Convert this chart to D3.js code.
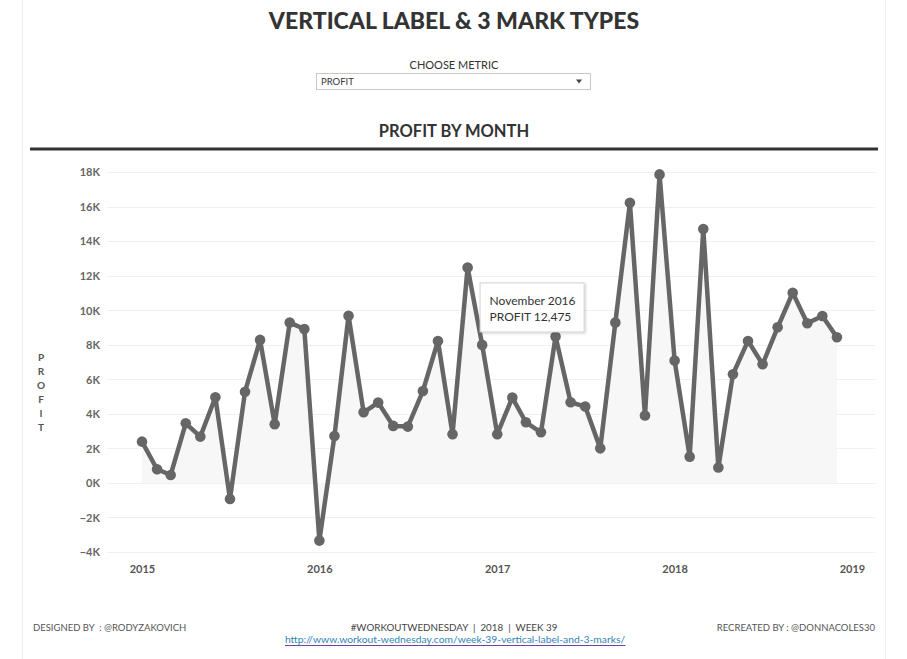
<!DOCTYPE html>
<html>
<head>
<meta charset="utf-8">
<script src="https://cdn.jsdelivr.net/npm/d3@7/dist/d3.min.js"></script>
<style>
  html, body { margin: 0; padding: 0; background: #fff; }
  svg { display: block; font-family: Lato, "Open Sans", sans-serif; }
  .pre { white-space: pre; }
</style>
</head>
<body>
<svg id="chart" width="907" height="659"></svg>
<script>
// ---- data ----
const months = [
  "2015-01","2015-02","2015-03","2015-04","2015-05","2015-06","2015-07","2015-08","2015-09","2015-10","2015-11","2015-12",
  "2016-01","2016-02","2016-03","2016-04","2016-05","2016-06","2016-07","2016-08","2016-09","2016-10","2016-11","2016-12",
  "2017-01","2017-02","2017-03","2017-04","2017-05","2017-06","2017-07","2017-08","2017-09","2017-10","2017-11","2017-12",
  "2018-01","2018-02","2018-03","2018-04","2018-05","2018-06","2018-07","2018-08","2018-09","2018-10","2018-11","2018-12"
];
const profit = [
  2390, 790, 460, 3450, 2680, 4960, -930, 5280, 8280, 3400, 9280, 8910,
  -3340, 2720, 9680, 4090, 4650, 3300, 3260, 5320, 8220, 2820, 12475, 7990,
  2820, 4940, 3510, 2930, 8470, 4670, 4420, 2000, 9280, 16220, 3900, 17860,
  7080, 1520, 14700, 890, 6290, 8220, 6870, 9010, 11010, 9240, 9660, 8430
];
const yTicks = [-4000, -2000, 0, 2000, 4000, 6000, 8000, 10000, 12000, 14000, 16000, 18000];
const xTickYears = [2015, 2016, 2017, 2018, 2019];
const tooltipIndex = 22; // November 2016

const parse = d3.timeParse("%Y-%m");
const data = months.map((m, i) => ({ date: parse(m), value: profit[i] }));

const svg = d3.select("#chart");

// dashboard frame lines
svg.append("line").attr("x1", 22.5).attr("x2", 22.5).attr("y1", 0).attr("y2", 659).attr("stroke", "#eeeeee");
svg.append("line").attr("x1", 885.5).attr("x2", 885.5).attr("y1", 0).attr("y2", 659).attr("stroke", "#eeeeee");

// title
svg.append("text").attr("x", 454).attr("y", 29).attr("text-anchor", "middle")
  .attr("font-size", 23).attr("font-weight", 900).attr("fill", "#333")
  .text("VERTICAL LABEL & 3 MARK TYPES");

// choose metric
svg.append("text").attr("x", 454).attr("y", 69).attr("text-anchor", "middle")
  .attr("font-size", 11).attr("fill", "#333").text("CHOOSE METRIC");
svg.append("rect").attr("x", 316.5).attr("y", 73.5).attr("width", 274).attr("height", 16)
  .attr("fill", "#fff").attr("stroke", "#c8c8c8");
svg.append("text").attr("x", 321).attr("y", 85).attr("font-size", 9.5).attr("fill", "#333").text("PROFIT");
svg.append("path").attr("d", "M576,79.5 L582,79.5 L579,83.5 Z").attr("fill", "#444");

// chart header
svg.append("text").attr("x", 454).attr("y", 137).attr("text-anchor", "middle")
  .attr("font-size", 16.5).attr("font-weight", 700).attr("fill", "#333").text("PROFIT BY MONTH");
svg.append("rect").attr("x", 30).attr("y", 147.5).attr("width", 848).attr("height", 3).attr("fill", "#333");

// scales
const x = d3.scaleTime().domain([new Date(2015, 0, 1), new Date(2019, 0, 1)]).range([142, 852]);
const y = d3.scaleLinear().domain([-4000, 18000]).range([552, 172]);

// gridlines
const grid = svg.append("g");
grid.selectAll("line").data(yTicks).join("line")
  .attr("x1", 107).attr("x2", 875)
  .attr("y1", d => Math.round(y(d)) + 0.5).attr("y2", d => Math.round(y(d)) + 0.5)
  .attr("stroke", "#f0f0f0");

// y axis
const yAxis = d3.axisLeft(y).tickValues(yTicks).tickSize(0).tickPadding(0)
  .tickFormat(d => d3.format("d")(d / 1000) + "K");
const gy = svg.append("g").attr("transform", "translate(100,0)").call(yAxis);
gy.select(".domain").remove();
gy.selectAll("text").attr("font-size", 11).attr("font-weight", 700).attr("fill", "#666")
  .attr("font-family", "Lato, sans-serif").attr("dy", "0.35em");

// x axis
const xAxis = d3.axisBottom(x).tickValues(xTickYears.map(yr => new Date(yr, 0, 1)))
  .tickSize(0).tickPadding(0).tickFormat(d3.timeFormat("%Y"));
const gx = svg.append("g").attr("transform", "translate(0,565)").call(xAxis);
gx.select(".domain").remove();
gx.selectAll("text").attr("font-size", 11).attr("font-weight", 700).attr("fill", "#555")
  .attr("font-family", "Lato, sans-serif").attr("dy", "0.71em");

// vertical label
const vlab = "PROFIT".split("");
svg.append("g").selectAll("text").data(vlab).join("text")
  .attr("x", 41).attr("y", (d, i) => 361 + i * 14).attr("text-anchor", "middle")
  .attr("font-size", 10).attr("font-weight", 700).attr("fill", "#555").text(d => d);

// area
const area = d3.area().x(d => x(d.date)).y0(y(0)).y1(d => y(d.value));
svg.append("path").datum(data).attr("d", area).attr("fill", "#f7f7f7");

// line
const line = d3.line().x(d => x(d.date)).y(d => y(d.value));
svg.append("path").datum(data).attr("d", line).attr("fill", "none")
  .attr("stroke", "#666").attr("stroke-width", 4.5).attr("stroke-linejoin", "round");

// circles
svg.append("g").selectAll("circle").data(data).join("circle")
  .attr("cx", d => x(d.date)).attr("cy", d => y(d.value)).attr("r", 5.3).attr("fill", "#666");

// tooltip
const tp = data[tooltipIndex];
const tg = svg.append("g");
const defs = svg.append("defs");
const f = defs.append("filter").attr("id", "sh").attr("x", "-10%").attr("y", "-10%").attr("width", "130%").attr("height", "140%");
f.append("feDropShadow").attr("dx", 1).attr("dy", 1).attr("stdDeviation", 1.2).attr("flood-color", "#000").attr("flood-opacity", 0.2);
const tx = x(tp.date) + 12, ty = y(tp.value) + 15;
tg.append("rect").attr("x", tx + 0.5).attr("y", ty + 0.5).attr("width", 104).attr("height", 49)
  .attr("fill", "#fff").attr("stroke", "#d4d4d4").attr("filter", "url(#sh)");
tg.append("text").attr("x", tx + 10).attr("y", ty + 23).attr("font-size", 12).attr("fill", "#333")
  .text(d3.timeFormat("%B %Y")(tp.date));
tg.append("text").attr("x", tx + 10).attr("y", ty + 39).attr("font-size", 12).attr("fill", "#333")
  .text("PROFIT " + d3.format(",")(tp.value));

// footer
svg.append("text").attr("class", "pre").attr("x", 33).attr("y", 631).attr("font-size", 9.5).attr("fill", "#555")
  .text("DESIGNED BY  : @RODYZAKOVICH");
svg.append("text").attr("x", 875).attr("y", 631).attr("text-anchor", "end").attr("font-size", 9.5).attr("fill", "#555")
  .text("RECREATED BY : @DONNACOLES30");
svg.append("text").attr("class", "pre").attr("x", 454).attr("y", 631).attr("text-anchor", "middle").attr("font-size", 9.8).attr("fill", "#444")
  .text("#WORKOUTWEDNESDAY  |  2018  |  WEEK 39");
const link = svg.append("text").attr("x", 455).attr("y", 643).attr("text-anchor", "middle").attr("font-size", 10.3)
  .attr("fill", "#2f86b5").text("http://www.workout-wednesday.com/week-39-vertical-label-and-3-marks/");
const bb = link.node().getBBox();
svg.append("line").attr("x1", bb.x).attr("x2", bb.x + bb.width).attr("y1", 645.5).attr("y2", 645.5)
  .attr("stroke", "#7b3fa0").attr("stroke-width", 1);
</script>
</body>
</html>
